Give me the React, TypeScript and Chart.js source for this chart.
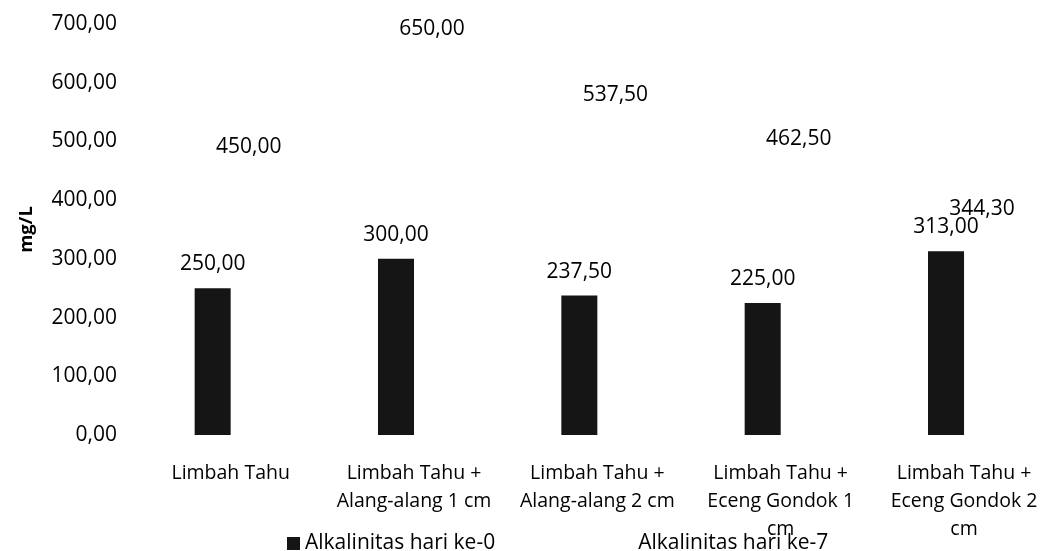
import React, { useEffect, useRef } from "react";
import { Chart, registerables } from "chart.js";

Chart.register(...registerables);

// Treatments (x categories), wrapped into lines as printed under the axis
const categories: string[][] = [
  ["Limbah Tahu"],
  ["Limbah Tahu +", "Alang-alang 1 cm"],
  ["Limbah Tahu +", "Alang-alang 2 cm"],
  ["Limbah Tahu +", "Eceng Gondok 1", "cm"],
  ["Limbah Tahu +", "Eceng Gondok 2", "cm"],
];

const seriesNames = ["Alkalinitas hari ke-0", "Alkalinitas hari ke-7"];

// Alkalinity in mg/L
const alkalinityDay0 = [250.0, 300.0, 237.5, 225.0, 313.0];
const alkalinityDay7 = [450.0, 650.0, 537.5, 462.5, 344.3];

const yTicks = [0, 100, 200, 300, 400, 500, 600, 700];

const FONT = "'Open Sans', 'Noto Sans', sans-serif";

const fmt = (v: number) => v.toFixed(2).replace(".", ",");

// Value labels above each bar
const valueLabels = {
  id: "valueLabels",
  afterDatasetsDraw(chart: Chart) {
    const ctx = chart.ctx;
    ctx.save();
    ctx.font = `21px ${FONT}`;
    ctx.fillStyle = "#000";
    ctx.textAlign = "center";
    ctx.textBaseline = "middle";
    chart.data.datasets.forEach((ds, di) => {
      const meta = chart.getDatasetMeta(di);
      meta.data.forEach((el: any, i: number) => {
        const v = ds.data[i] as number;
        ctx.fillText(fmt(v), el.x, el.y - 24);
      });
    });
    ctx.restore();
  },
};

// Legend row drawn along the bottom edge
const bottomLegend = {
  id: "bottomLegend",
  afterDraw(chart: Chart) {
    const ctx = chart.ctx;
    ctx.save();
    ctx.font = `21px ${FONT}`;
    ctx.textBaseline = "middle";
    ctx.textAlign = "left";
    let x = 287;
    const y = 543;
    chart.data.datasets.forEach((ds: any) => {
      ctx.fillStyle = ds.backgroundColor;
      ctx.fillRect(x, y - 6, 13, 13);
      x += 18;
      ctx.fillStyle = "#000";
      ctx.fillText(ds.label, x, y);
      x += ctx.measureText(ds.label).width + 125;
    });
    ctx.restore();
  },
};

export default function App() {
  const canvasRef = useRef<HTMLCanvasElement | null>(null);

  useEffect(() => {
    if (!canvasRef.current) return;
    const chart = new Chart(canvasRef.current, {
      type: "bar",
      data: {
        labels: categories,
        datasets: [
          {
            label: seriesNames[0],
            data: alkalinityDay0,
            backgroundColor: "#151515",
            borderWidth: 0,
          },
          {
            label: seriesNames[1],
            data: alkalinityDay7,
            backgroundColor: "#ffffff",
            borderWidth: 0,
          },
        ],
      },
      options: {
        responsive: false,
        animation: false,
        layout: { padding: { left: 0, right: 6, top: 24, bottom: 0 } },
        plugins: {
          legend: { display: false },
          tooltip: { enabled: false },
        },
        datasets: {
          bar: { categoryPercentage: 0.393, barPercentage: 1 },
        },
        scales: {
          x: {
            grid: { display: false, drawTicks: false },
            border: { display: false },
            ticks: {
              autoSkip: false,
              maxRotation: 0,
              padding: 24,
              color: "#000",
              font: { family: FONT, size: 19.5, lineHeight: 1.45 },
            },
            afterFit: (s: any) => {
              s.height = 116;
            },
          },
          y: {
            min: 0,
            max: 700,
            grid: { display: false, drawTicks: false },
            border: { display: false },
            afterBuildTicks: (s: any) => {
              s.ticks = yTicks.map((v) => ({ value: v }));
            },
            ticks: {
              padding: 22,
              color: "#000",
              font: { family: FONT, size: 21 },
              callback: (v: any) => fmt(Number(v)),
            },
            title: {
              display: true,
              text: "mg/L",
              color: "#000",
              font: { family: FONT, size: 18.5, weight: "bold" },
              padding: { top: 16, bottom: 0 },
            },
            afterFit: (s: any) => {
              s.width = 139;
              s.paddingTop = 0;
              s.paddingBottom = 0;
            },
          },
        },
      },
      plugins: [valueLabels, bottomLegend],
    });
    return () => chart.destroy();
  }, []);

  return (
    <div
      style={{
        position: "fixed",
        left: 0,
        top: 0,
        width: 1044,
        height: 551,
        overflow: "hidden",
        background: "#fff",
      }}
    >
      <canvas ref={canvasRef} width={1062} height={551} style={{ display: "block" }} />
    </div>
  );
}
